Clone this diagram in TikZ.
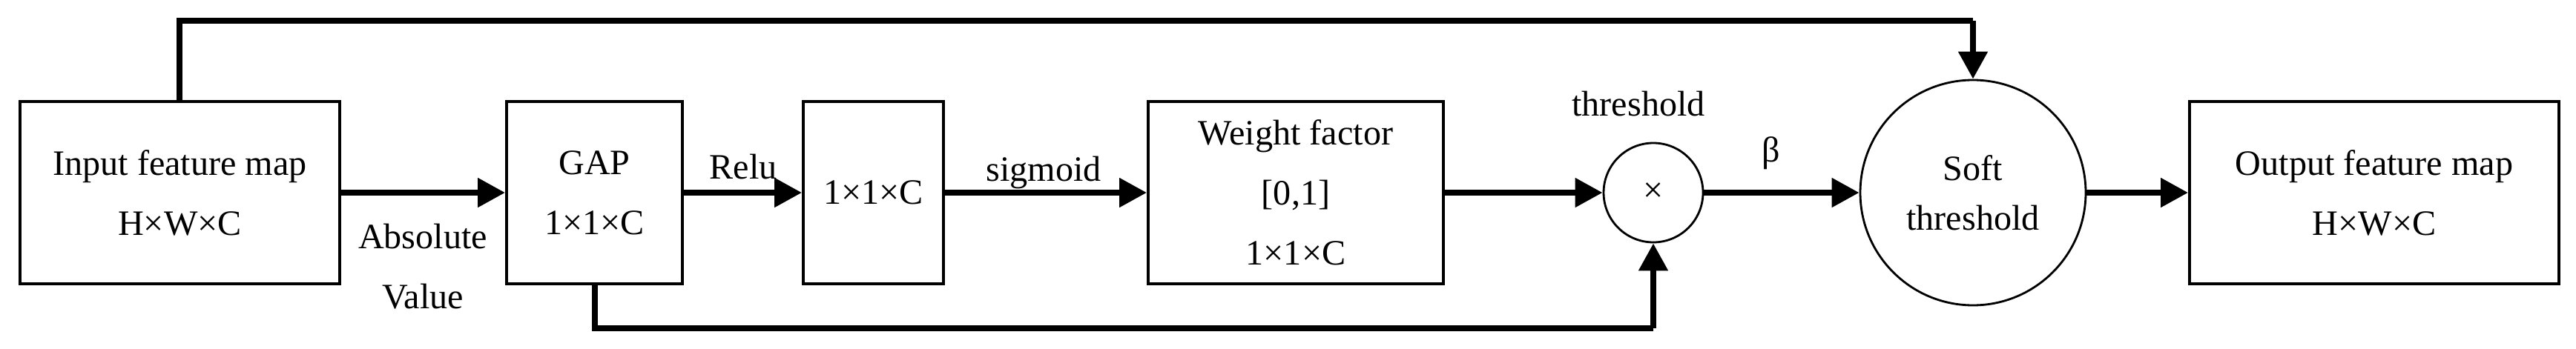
\documentclass[tikz,border=0pt]{standalone}
\usepackage{fontspec}
\setmainfont{Liberation Serif}
\usetikzlibrary{arrows.meta}
\begin{document}
\begin{tikzpicture}[
  box/.style={draw, line width=1.1pt, minimum height=2.46cm, align=center, inner sep=0pt},
  circ/.style={draw, line width=0.8pt, circle, align=center, inner sep=0pt},
  conn/.style={line width=2.3pt},
  arr/.style={conn, -{Triangle[length=0.37cm,width=0.38cm]}},
  lab/.style={align=center, inner sep=0pt},
  font=\fontsize{13.7}{19}\selectfont]
\useasboundingbox (0,0) rectangle (34.73,4.70);
\node[box, minimum width=4.31cm] (in) at (2.425,2.10) {Input feature map\\[4pt]H×W×C};
\node[box, minimum width=2.37cm] (gap) at (8.015,2.10) {GAP\\[4pt]1×1×C};
\node[box, minimum width=1.89cm] (fc) at (11.775,2.10) {1×1×C};
\node[box, minimum width=3.98cm] (wf) at (17.47,2.10) {Weight factor\\[4pt][0,1]\\[4pt]1×1×C};
\node[circ, minimum size=1.34cm] (mul) at (22.29,2.10) {×};
\node[circ, minimum size=3.04cm] (soft) at (26.60,2.10) {Soft\\threshold};
\node[box, minimum width=4.98cm] (out) at (32.01,2.10) {Output feature map\\[4pt]H×W×C};
\node[lab] (abs) at (5.70,1.10) {Absolute\\[4pt]Value};
\node[lab] (relu) at (10.02,2.45) {Relu};
\node[lab] (sig) at (14.07,2.37) {sigmoid};
\node[lab] (thr) at (22.09,3.30) {threshold};
\node[lab] (beta) at (23.88,2.63) {β};
\draw[arr] (in) -- (gap);
\draw[arr] (gap) -- (fc);
\draw[arr] (fc) -- (wf);
\draw[arr] (wf) -- (mul);
\draw[arr] (mul) -- (soft);
\draw[arr] (soft) -- (out);
\coordinate (t1) at (2.42,4.42);
\coordinate (t2) at (26.60,4.42);
\draw[conn] (in.north -| t1) -- (t1) -- (t2);
\draw[arr] (t2) -- (soft.north);
\coordinate (b1) at (8.02,0.27);
\coordinate (b2) at (22.29,0.27);
\draw[conn] (gap.south -| b1) -- (b1) -- (b2);
\draw[arr] (b2) -- (mul.south);
\end{tikzpicture}
\end{document}
